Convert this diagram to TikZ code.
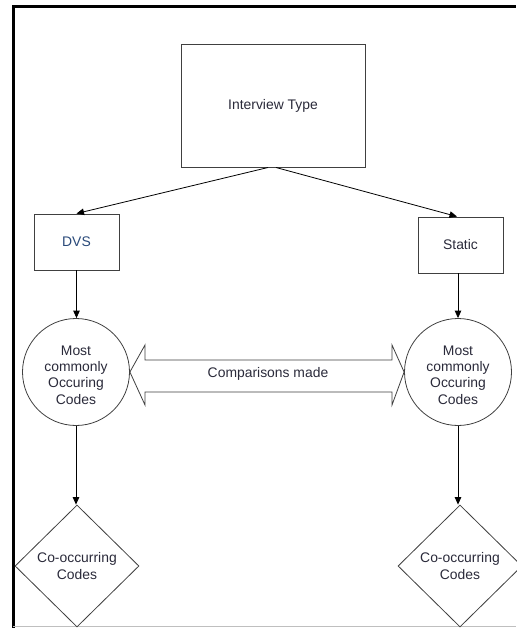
\documentclass[tikz,border=0pt]{standalone}
\usepackage{fontspec}
\setmainfont{Liberation Sans}
\usetikzlibrary{shapes.geometric,arrows.meta}
\definecolor{txt}{HTML}{2A2A3A}
\definecolor{dvstxt}{HTML}{2A4A7A}
\definecolor{edge}{HTML}{404040}
\tikzset{
  box/.style={draw=edge,line width=0.9pt,rectangle,inner sep=0pt,text=txt},
  circ/.style={draw=edge,line width=0.8pt,circle,inner sep=0pt,minimum size=107pt,text=txt,align=center},
  diam/.style={draw=edge,line width=0.8pt,diamond,inner sep=0pt,minimum width=124pt,minimum height=122pt,text=txt,align=center},
  conn/.style={draw=black,line width=0.8pt,-{Triangle[width=6.5pt,length=7.5pt]}},
  lbl/.style={text=txt,align=center,inner sep=0pt}
}
\begin{document}
\begin{tikzpicture}[x=1pt,y=-1pt,font=\fontsize{13.9}{16.3}\selectfont]
\useasboundingbox (0,0) rectangle (516,628);
\fill[white] (0,0) rectangle (516,628);
% frame
\draw[black,line width=3pt] (13,628) -- (13,7) -- (516,7);
\draw[black!25,line width=1pt] (13,626.5) -- (516,626.5);
% nodes
\node[box,minimum width=184pt,minimum height=123pt] (it) at (273,105.5) {Interview Type};
\node[box,minimum width=85pt,minimum height=56pt,text=dvstxt] (dvs) at (76.5,242) {DVS};
\node[box,minimum width=85pt,minimum height=56pt] (st) at (460.5,245) {Static};
\node[circ] (c1) at (76,372) {};
\node[circ] (c2) at (458,372) {};
\node[lbl] (t1) at (76,375) {Most\\commonly\\Occuring\\Codes};
\node[lbl] (t2) at (458,375) {Most\\commonly\\Occuring\\Codes};
\node[diam] (d1) at (77,566) {Co-occurring\\Codes};
\node[diam] (d2) at (460,566) {Co-occurring\\Codes};
% connectors
\coordinate (s1) at (268,167.5);
\coordinate (s2) at (276,167.5);
\draw[conn] (s1) -- (dvs.north);
\draw[conn] (s2) -- (st.north -| 457,0);
\draw[conn] (dvs.south) -- (c1.north -| dvs.south);
\draw[conn] (st.south -| 458,0) -- (c2.north);
\draw[conn] (c1.south) -- (d1.north -| c1.south);
\draw[conn] (c2.south) -- (d2.north -| c2.south);
% double arrow
\draw[edge,line width=0.8pt,fill=white]
  (c1.east) -- (145,345) -- (145,360) -- (392,360) -- (392,345) -- (c2.west)
  -- (392,405) -- (392,392) -- (145,392) -- (145,405) -- cycle;
\node[lbl] (cm) at (268,374) {Comparisons made};
\end{tikzpicture}
\end{document}
